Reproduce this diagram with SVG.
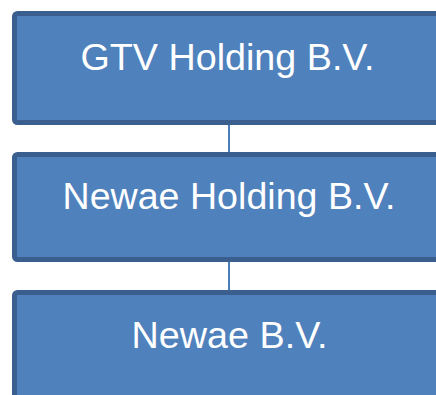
<svg xmlns="http://www.w3.org/2000/svg" width="436" height="395" viewBox="0 0 436 395">
<style>
.box{fill:#4F81BD;stroke:#3A5F8E;stroke-width:5}
.lbl{fill:#FFFFFF;font-family:"Liberation Sans",Arial,sans-serif;font-size:36px;text-anchor:middle}
.conn{stroke:#4A7EBB;stroke-width:2;fill:none}
.ghost{stroke:#4A7EBB;stroke-width:2;fill:none;opacity:0.9}
</style>
<rect width="436" height="395" fill="#FFFFFF"/>
<g id="connectors">
<line class="conn" x1="229" y1="103" x2="229" y2="200"/>
<line class="conn" x1="229" y1="228" x2="229" y2="314"/>
</g>
<g id="node-gtv">
<rect class="box" x="14.5" y="13.5" width="430" height="109" rx="3"/>
<text class="lbl" x="227.5" y="69.5" textLength="294" lengthAdjust="spacingAndGlyphs">GTV Holding B.V.</text>
</g>
<g id="node-newae-holding">
<rect class="box" x="14.5" y="154.5" width="430" height="105" rx="3"/>
<text class="lbl" x="229" y="208.5" textLength="333" lengthAdjust="spacingAndGlyphs">Newae Holding B.V.</text>
</g>
<g id="node-newae">
<rect class="box" x="14.5" y="292.5" width="430" height="110" rx="3"/>
<text class="lbl" x="229.5" y="347.5" textLength="196" lengthAdjust="spacingAndGlyphs">Newae B.V.</text>
</g>
</svg>
